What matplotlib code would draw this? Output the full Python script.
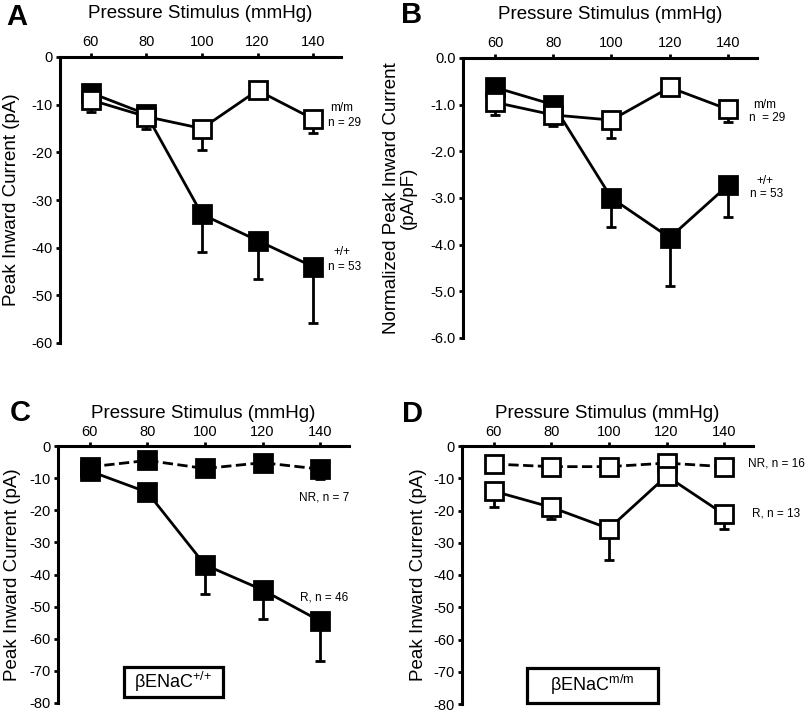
import numpy as np
import matplotlib
matplotlib.use('Agg')
import matplotlib.pyplot as plt
from matplotlib.patches import Rectangle

plt.rcParams['font.family'] = ['Liberation Sans', 'DejaVu Sans']
plt.rcParams['mathtext.fontset'] = 'custom'
plt.rcParams['mathtext.rm'] = 'Liberation Sans'
plt.rcParams['mathtext.it'] = 'Liberation Sans:italic'

# Pressure steps (mmHg)
pressure = [60, 80, 100, 120, 140]

# Panel A - peak inward current (pA)
a_mm = [-9, -12.5, -15, -7, -13]
a_mm_err = [2.5, 2.5, 4.5, 0.5, 3]
a_wt = [-7.5, -12, -33, -38.5, -44]
a_wt_err = [2, 2, 8, 8, 11.7]

# Panel B - normalized (pA/pF)
b_mm = [-0.95, -1.22, -1.33, -0.63, -1.1]
b_mm_err = [0.27, 0.24, 0.39, 0.05, 0.27]
b_wt = [-0.63, -1.0, -3.0, -3.85, -2.73]
b_wt_err = [0.27, 0.2, 0.62, 1.03, 0.67]

# Panel C - bENaC +/+, responders (R) and non-responders (NR)
c_nr = [-6.5, -4.5, -7, -5.2, -7.2]
c_nr_err = [0.8, 0.8, 0.8, 0.8, 3]
c_r = [-7.8, -14.4, -37, -44.8, -54.5]
c_r_err = [1.2, 2.1, 9.2, 9.2, 12.5]

# Panel D - bENaC m/m
d_nr = [-5.6, -6.4, -6.4, -5.3, -6.4]
d_nr_err = [0.5, 0.5, 0.5, 0.5, 0.5]
d_r = [-14, -19, -25.6, -9.3, -21.2]
d_r_err = [5, 3.7, 9.6, 2.5, 4.5]

W, H = 807, 715
fig = plt.figure(figsize=(W / 100, H / 100), dpi=100)


def px_axes(x0, y0, x1, y1):
    return fig.add_axes([x0 / W, 1 - y1 / H, (x1 - x0) / W, (y1 - y0) / H])


def ftext(x, y, s, **kw):
    fig.text(x / W, 1 - y / H, s, ha='center', va='center', **kw)


def series(ax, y, err, filled, ls='-'):
    lower = np.array(err)
    ax.errorbar(pressure, y, yerr=[lower, np.zeros_like(lower)], color='black',
                lw=2, ls=ls, marker='s', ms=12.5, mew=2,
                mfc='black' if filled else 'white', mec='black',
                ecolor='black', elinewidth=2, capsize=3.5, capthick=2.5,
                clip_on=False, zorder=3)


def style(ax, ylim, yticks, fmt, title_pad, tick_pad):
    ax.set_xlim(49, 150)
    ax.set_ylim(*ylim)
    ax.set_xticks(pressure)
    ax.set_yticks(yticks)
    ax.set_yticklabels([fmt.format(v) for v in yticks])
    ax.xaxis.tick_top()
    ax.xaxis.set_label_position('top')
    ax.set_xlabel('Pressure Stimulus (mmHg)', fontsize=13.5, labelpad=title_pad)
    for s in ['right', 'bottom']:
        ax.spines[s].set_visible(False)
    for s in ['left', 'top']:
        ax.spines[s].set_linewidth(2.2)
    ax.tick_params(axis='both', direction='out', length=3, width=2,
                   labelsize=10.5)
    ax.tick_params(axis='x', pad=tick_pad)
    ax.tick_params(axis='y', pad=2)


# A
axA = px_axes(60, 57, 341, 343)
series(axA, a_wt, a_wt_err, True)
series(axA, a_mm, a_mm_err, False)
style(axA, (-60, 0), np.arange(-60, 1, 10), '{:d}', 12, 3)
axA.set_ylabel('Peak Inward Current (pA)', fontsize=13.5, va='center')
axA.yaxis.set_label_coords(-0.171, 0.5)

# B
axB = px_axes(463, 58, 757, 338)
series(axB, b_wt, b_wt_err, True)
series(axB, b_mm, b_mm_err, False)
style(axB, (-6, 0), np.arange(-6, 0.1, 1.0), '{:.1f}', 12, 3)
axB.set_ylabel('Normalized Peak Inward Current\n(pA/pF)', fontsize=13.5,
               linespacing=1.0, va='center')
axB.yaxis.set_label_coords(-0.214, 0.5)

# C
axC = px_axes(58, 446, 349, 703)
series(axC, c_nr, c_nr_err, True, ls='--')
series(axC, c_r, c_r_err, True)
style(axC, (-80, 0), np.arange(-80, 1, 10), '{:d}', 5, 2)
axC.set_ylabel('Peak Inward Current (pA)', fontsize=13.5, va='center')
axC.yaxis.set_label_coords(-0.158, 0.5)

# D
axD = px_axes(462, 446, 753, 704)
series(axD, d_nr, d_nr_err, False, ls='--')
series(axD, d_r, d_r_err, False)
style(axD, (-80, 0), np.arange(-80, 1, 10), '{:d}', 5, 2)
axD.set_ylabel('Peak Inward Current (pA)', fontsize=13.5, va='center')
axD.yaxis.set_label_coords(-0.151, 0.5)

# genotype boxes
for ax, x0, x1, y0, y1, txt in [
        (axC, 0.227, 0.567, 0.023, 0.140, 'βENaC$^{{+}/{+}}$'),
        (axD, 0.223, 0.674, 0.004, 0.140, 'βENaC$^{\\mathrm{m/m}}$')]:
    ax.add_patch(Rectangle((x0, y0), x1 - x0, y1 - y0, transform=ax.transAxes,
                           fill=False, lw=2.3, ec='black', clip_on=False))
    ax.text((x0 + x1) / 2, (y0 + y1) / 2, txt,
            transform=ax.transAxes, ha='center', va='center', fontsize=13)

# panel letters
for x, y, s in [(17, 17, 'A'), (412, 15, 'B'), (20, 413, 'C'), (412, 414, 'D')]:
    ftext(x, y, s, fontsize=21, fontweight='bold')

# group labels
ftext(342, 108, 'm/m', fontsize=8.5)
ftext(345, 123, 'n = 29', fontsize=8.5)
ftext(342, 252, '+/+', fontsize=8.5)
ftext(345, 267, 'n = 53', fontsize=8.5)
ftext(765, 105, 'm/m', fontsize=8.5)
ftext(767, 118, 'n  = 29', fontsize=8.5)
ftext(765, 181, '+/+', fontsize=8.5)
ftext(767, 194, 'n = 53', fontsize=8.5)
ftext(324, 497, 'NR, n = 7', fontsize=8.5)
ftext(324, 597, 'R, n = 46', fontsize=8.5)
ftext(776, 463, 'NR, n = 16', fontsize=8.5)
ftext(776, 513, 'R, n = 13', fontsize=8.5)

fig.savefig('out.png', dpi=100)
